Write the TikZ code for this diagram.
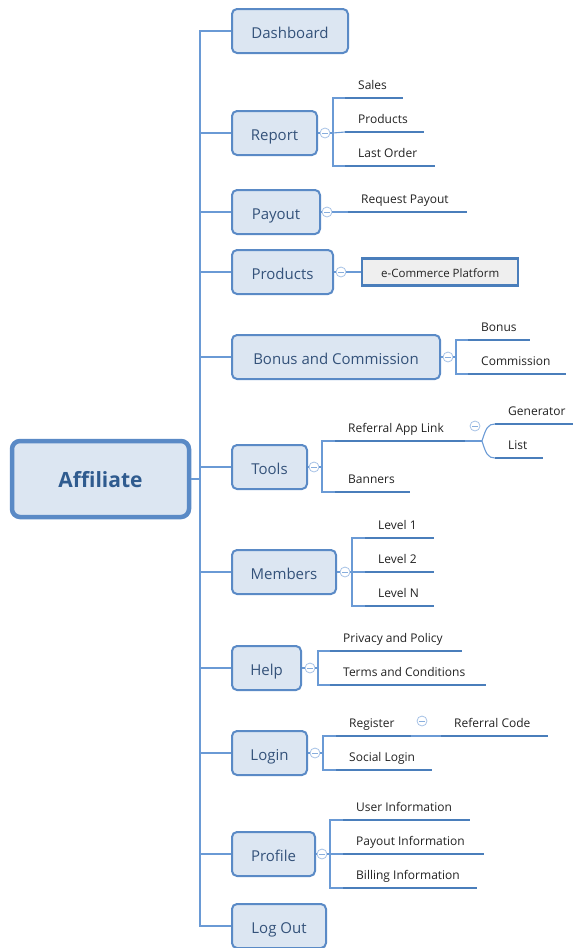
\documentclass[tikz,border=0pt]{standalone}
\usepackage{fontspec}
\setmainfont{Open Sans}
\definecolor{boxfill}{HTML}{DCE6F2}
\definecolor{boxline}{HTML}{5A8AC6}
\definecolor{boxtext}{HTML}{34527A}
\definecolor{roottext}{HTML}{2F5B8F}
\definecolor{uline}{HTML}{4A7EBB}
\definecolor{connline}{HTML}{6A9AD5}
\definecolor{plainfill}{HTML}{EFEFEF}
\definecolor{leaftext}{HTML}{222222}
\tikzset{
  conn/.style={draw=connline, line width=1.1pt},
  ulinestyle/.style={draw=uline, line width=2.6pt},
  topic/.style={draw=boxline, fill=boxfill, line width=2pt, rounded corners=5pt,
    text=boxtext, font=\fontsize{15}{18}\selectfont, minimum height=44pt,
    inner sep=0pt, text height=14.7pt, text depth=0pt, anchor=west},
  roottopic/.style={draw=boxline, fill=boxfill, line width=4.5pt, rounded corners=8pt,
    text=roottext, font=\fontsize{21}{25}\selectfont\bfseries, minimum width=177pt,
    minimum height=76pt, inner sep=0pt, text height=17pt, text depth=0pt},
  plaintopic/.style={draw=uline, fill=plainfill, line width=2.4pt,
    text=leaftext, font=\fontsize{11.5}{14}\selectfont, minimum height=27pt,
    inner sep=0pt, text height=10pt, text depth=0pt, anchor=west},
  leaftextstyle/.style={text=leaftext, font=\fontsize{12}{14}\selectfont,
    inner sep=0pt, anchor=base west},
  collapse/.style={circle, draw=connline!60, fill=white, line width=0.8pt,
    minimum size=10pt, inner sep=0pt,
    path picture={\draw[connline!80, line width=0.8pt]
      ([xshift=-2.6pt]path picture bounding box.center) --
      ([xshift=2.6pt]path picture bounding box.center);}},
}
% leaf topic: underline from (x,y) of given length, label above it
\newcommand\leaftopic[5]{%
  \coordinate (#1) at (#2,#3);
  \node[leaftextstyle] (#1-t) at (#2+13,#3-8.5) {#5};
  \draw[ulinestyle] (#1) -- ++(#4,0);
}
\begin{document}
\begin{tikzpicture}[x=1pt,y=-1pt]
\useasboundingbox (0,0) rectangle (573,948);

% root and first-level topics
\node[roottopic] (aff) at (100.5,479) {Affiliate};
\coordinate (trunk) at (200,479);

\node[topic, minimum width=116pt] (dash) at (231,31) {Dashboard};
\node[topic, minimum width=85pt]  (rep)  at (231,133) {Report};
\node[topic, minimum width=88pt]  (pay)  at (231,212) {Payout};
\node[topic, minimum width=101pt] (prod) at (231,272) {Products};
\node[topic, minimum width=208pt] (bon)  at (231,357) {Bonus and Commission};
\node[topic, minimum width=75pt]  (tools) at (231,467) {Tools};
\node[topic, minimum width=104pt] (mem)  at (231,572) {Members};
\node[topic, minimum width=69pt]  (help) at (231,668) {Help};
\node[topic, minimum width=75pt]  (login) at (231,753) {Login};
\node[topic, minimum width=83pt]  (prof) at (231,854) {Profile};
\node[topic, minimum width=94pt]  (out)  at (231,926) {Log Out};

% trunk connecting the root to every first-level topic
\draw[conn] (aff.east) -- (trunk);
\foreach \t in {dash,rep,pay,prod,bon,tools,mem,help,login,prof,out}
  \draw[conn] (trunk) |- (\t.west);

% Report
\node[collapse] (repc) at (325,133) {};
\draw[conn] (rep.east) -- (repc.west);
\coordinate (repb) at (333,133);
\leaftopic{sales}{345}{98}{58}{Sales}
\leaftopic{rprod}{345}{132}{79}{Products}
\leaftopic{last}{345}{166}{90}{Last Order}
\draw[conn] (repc.east) -- (repb);
\draw[conn] (sales) -| (repb) |- (last);
\draw[conn] (repb) -- (rprod);

% Payout
\node[collapse] (payc) at (327,212) {};
\draw[conn] (pay.east) -- (payc.west);
\leaftopic{req}{348}{212}{119}{Request Payout}
\draw[conn] (payc.east) -- (req);

% Products
\node[collapse] (prodc) at (341,272) {};
\draw[conn] (prod.east) -- (prodc.west);
\node[plaintopic, minimum width=156pt] (ecom) at (361,272) {e-Commerce Platform};
\draw[conn] (prodc.east) -- (ecom.west);

% Bonus and Commission
\node[collapse] (bonc) at (448,357) {};
\draw[conn] (bon.east) -- (bonc.west);
\coordinate (bonb) at (456,357);
\leaftopic{bonus}{468}{340}{62}{Bonus}
\leaftopic{comm}{468}{374}{98}{Commission}
\draw[conn] (bonc.east) -- (bonb);
\draw[conn] (bonus) -| (bonb) |- (comm);

% Tools
\node[collapse] (toolc) at (314,467) {};
\draw[conn] (tools.east) -- (toolc.west);
\coordinate (toolb) at (322,467);
\leaftopic{ral}{335}{441}{130}{Referral App Link}
\leaftopic{ban}{335}{492}{75}{Banners}
\draw[conn] (toolc.east) -- (toolb);
\draw[conn] (ral) -| (toolb) |- (ban);
\node[collapse] (ralc) at (475,426) {};
\leaftopic{gen}{495}{424}{78}{Generator}
\leaftopic{list}{495}{458}{48}{List}
\coordinate (ralb) at (482,441);
\draw[conn] (ral) ++(130,0) -- (ralb);
\draw[conn] (ralb) .. controls (486,428) and (488,424) .. (gen);
\draw[conn] (ralb) .. controls (486,454) and (488,458) .. (list);

% Members
\node[collapse] (memc) at (345,572) {};
\draw[conn] (mem.east) -- (memc.west);
\coordinate (memb) at (352,572);
\leaftopic{l1}{365}{538}{69}{Level 1}
\leaftopic{l2}{365}{572}{69}{Level 2}
\leaftopic{ln}{365}{606}{69}{Level N}
\draw[conn] (memc.east) -- (memb);
\draw[conn] (l1) -| (memb) |- (ln);
\draw[conn] (memb) -- (l2);

% Help
\node[collapse] (helpc) at (310,668) {};
\draw[conn] (help.east) -- (helpc.west);
\coordinate (helpb) at (318,668);
\leaftopic{priv}{330}{651}{132}{Privacy and Policy}
\leaftopic{terms}{330}{685}{156}{Terms and Conditions}
\draw[conn] (helpc.east) -- (helpb);
\draw[conn] (priv) -| (helpb) |- (terms);

% Login
\node[collapse] (loginc) at (315,753) {};
\draw[conn] (login.east) -- (loginc.west);
\coordinate (loginb) at (323,753);
\leaftopic{reg}{336}{736}{75}{Register}
\leaftopic{soc}{336}{770}{96}{Social Login}
\draw[conn] (loginc.east) -- (loginb);
\draw[conn] (reg) -| (loginb) |- (soc);
\node[collapse] (regc) at (422,721) {};
\leaftopic{refc}{441}{736}{107}{Referral Code}
\draw[conn] (reg) ++(75,0) -- (refc);

% Profile
\node[collapse] (profc) at (322,854) {};
\draw[conn] (prof.east) -- (profc.west);
\coordinate (profb) at (330,854);
\leaftopic{user}{343}{820}{127}{User Information}
\leaftopic{payi}{343}{854}{141}{Payout Information}
\leaftopic{bill}{343}{888}{134}{Billing Information}
\draw[conn] (profc.east) -- (profb);
\draw[conn] (user) -| (profb) |- (bill);
\draw[conn] (profb) -- (payi);
\end{tikzpicture}
\end{document}
